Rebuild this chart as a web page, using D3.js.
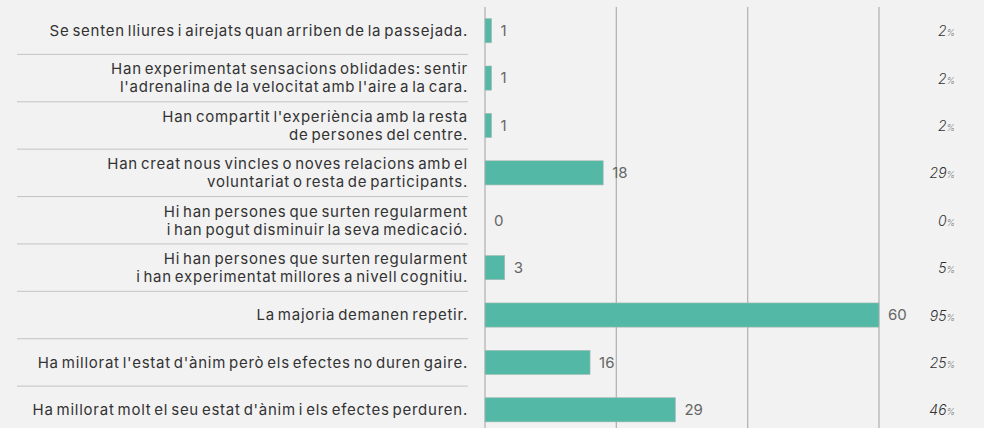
<!DOCTYPE html>
<html>
<head>
<meta charset="utf-8">
<script src="https://cdn.jsdelivr.net/npm/d3@7"></script>
<style>
  html, body { margin: 0; padding: 0; background: #f2f2f2; }
  svg { display: block; }
  text { font-family: Inter, "Noto Sans", sans-serif; }
</style>
</head>
<body>
<div id="chart"></div>
<script>
// categories (each label split into its lines)
const categories = [
  ["Se senten lliures i airejats quan arriben de la passejada."],
  ["Han experimentat sensacions oblidades: sentir", "l'adrenalina de la velocitat amb l'aire a la cara."],
  ["Han compartit l'experiència amb la resta", "de persones del centre."],
  ["Han creat nous vincles o noves relacions amb el", "voluntariat o resta de participants."],
  ["Hi han persones que surten regularment", "i han pogut disminuir la seva medicació."],
  ["Hi han persones que surten regularment", "i han experimentat millores a nivell cognitiu."],
  ["La majoria demanen repetir."],
  ["Ha millorat l'estat d'ànim però els efectes no duren gaire."],
  ["Ha millorat molt el seu estat d'ànim i els efectes perduren."]
];
const counts = [1, 1, 1, 18, 0, 3, 60, 16, 29];
const percents = [2, 2, 2, 29, 0, 5, 95, 25, 46];
const gridTicks = [0, 20, 40, 60];

const width = 984, height = 428;
const svg = d3.select('#chart').append('svg')
  .attr('width', width)
  .attr('height', height);

const x = d3.scaleLinear().domain([0, 60]).range([485, 879]);
const y = d3.scaleBand().domain(d3.range(categories.length)).range([7, 433.5]).paddingInner(0.49).paddingOuter(0.245);
const gap = (y.step() - y.bandwidth()) / 2;

// vertical grid lines
svg.append('g').selectAll('line')
  .data(gridTicks)
  .enter().append('line')
  .attr('x1', d => x(d)).attr('x2', d => x(d))
  .attr('y1', 7).attr('y2', height)
  .attr('stroke', '#b4b4b4')
  .attr('stroke-width', 1.3);

// separators between labels
svg.append('g').selectAll('line')
  .data(d3.range(1, categories.length))
  .enter().append('line')
  .attr('x1', 17).attr('x2', 468)
  .attr('y1', d => y(d) - gap)
  .attr('y2', d => y(d) - gap)
  .attr('stroke', '#c4c4c4')
  .attr('stroke-width', 1);

// bars
svg.append('g').selectAll('rect')
  .data(counts.map((v, i) => ({ v, i })).filter(d => d.v > 0))
  .enter().append('rect')
  .attr('x', x(0))
  .attr('y', d => y(d.i))
  .attr('width', d => x(d.v) - x(0))
  .attr('height', y.bandwidth())
  .attr('fill', '#53b9a6')
  .attr('stroke', '#a9b9b5')
  .attr('stroke-width', 0.6);

// category labels
const labels = svg.append('g').selectAll('text')
  .data(categories)
  .enter().append('text')
  .attr('text-anchor', 'end')
  .attr('font-size', 15)
  .attr('fill', '#333')
  .style('letter-spacing', '0.75px')
  .style('word-spacing', '-2px')
  .attr('transform', (d, i) => `translate(468,${y(i) + y.bandwidth() / 2})`);

labels.each(function(lines) {
  const t = d3.select(this);
  const lh = 18;
  lines.forEach((ln, k) => {
    t.append('tspan')
      .attr('x', 0)
      .attr('y', (k - (lines.length - 1) / 2) * lh)
      .attr('dy', '0.35em')
      .text(ln);
  });
});

// value labels
svg.append('g').selectAll('text')
  .data(counts)
  .enter().append('text')
  .attr('x', d => x(d) + 9)
  .attr('y', (d, i) => y(i) + y.bandwidth() / 2)
  .attr('dy', '0.35em')
  .attr('font-size', 15)
  .attr('fill', '#666')
  .text(d => d);

// percentages
const pct = svg.append('g').selectAll('text')
  .data(percents)
  .enter().append('text')
  .attr('x', 955)
  .attr('y', (d, i) => y(i) + y.bandwidth() / 2)
  .attr('dy', '0.35em')
  .attr('text-anchor', 'end')
  .attr('font-style', 'italic')
  .attr('font-weight', 300)
  .attr('fill', '#333');
pct.append('tspan').attr('font-size', 14).text(d => d);
pct.append('tspan').attr('font-size', 9).attr('fill', '#777').text('%');
</script>
</body>
</html>
